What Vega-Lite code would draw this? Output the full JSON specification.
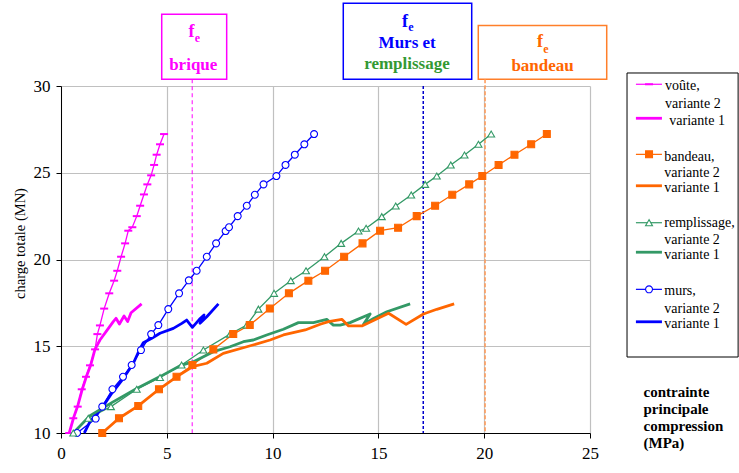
{
  "$schema": "https://vega.github.io/schema/vega-lite/v6.json",
  "width": 529,
  "height": 347,
  "autosize": {"type": "none"},
  "padding": {"left": 61, "top": 86, "right": 149, "bottom": 40},
  "background": "white",
  "config": {
    "view": {"stroke": null},
    "font": "'Liberation Serif', 'Times New Roman', Times, serif",
    "text": {"font": "'Liberation Serif', 'Times New Roman', Times, serif"},
    "axis": {"labelFont": "'Liberation Serif', 'Times New Roman', Times, serif", "titleFont": "'Liberation Serif', 'Times New Roman', Times, serif"}
  },
  "resolve": {"scale": {"color": "independent", "fill": "independent", "stroke": "independent", "shape": "independent"}},
  "datasets": {
    "curves": [
      {"s":"voûte","v":2,"i":0,"x":0.39,"y":10},
      {"s":"voûte","v":2,"i":1,"x":0.58,"y":10.85},
      {"s":"voûte","v":2,"i":2,"x":0.79,"y":11.52},
      {"s":"voûte","v":2,"i":3,"x":0.98,"y":12.52},
      {"s":"voûte","v":2,"i":4,"x":1.18,"y":13.24},
      {"s":"voûte","v":2,"i":5,"x":1.37,"y":13.9},
      {"s":"voûte","v":2,"i":6,"x":1.61,"y":14.82},
      {"s":"voûte","v":2,"i":7,"x":1.72,"y":15.7},
      {"s":"voûte","v":2,"i":8,"x":1.84,"y":16.2},
      {"s":"voûte","v":2,"i":9,"x":2.04,"y":17.17},
      {"s":"voûte","v":2,"i":10,"x":2.28,"y":18.05},
      {"s":"voûte","v":2,"i":11,"x":2.51,"y":18.78},
      {"s":"voûte","v":2,"i":12,"x":2.66,"y":19.35},
      {"s":"voûte","v":2,"i":13,"x":2.84,"y":20.16},
      {"s":"voûte","v":2,"i":14,"x":3.03,"y":20.93},
      {"s":"voûte","v":2,"i":15,"x":3.18,"y":21.66},
      {"s":"voûte","v":2,"i":16,"x":3.37,"y":21.86},
      {"s":"voûte","v":2,"i":17,"x":3.58,"y":22.5},
      {"s":"voûte","v":2,"i":18,"x":3.74,"y":23.1},
      {"s":"voûte","v":2,"i":19,"x":3.92,"y":23.75},
      {"s":"voûte","v":2,"i":20,"x":4.08,"y":24.33},
      {"s":"voûte","v":2,"i":21,"x":4.26,"y":24.85},
      {"s":"voûte","v":2,"i":22,"x":4.4,"y":25.45},
      {"s":"voûte","v":2,"i":23,"x":4.52,"y":26.04},
      {"s":"voûte","v":2,"i":24,"x":4.68,"y":26.64},
      {"s":"voûte","v":2,"i":25,"x":4.87,"y":27.23},

      {"s":"voûte","v":1,"i":0,"x":0.39,"y":10},
      {"s":"voûte","v":1,"i":1,"x":0.6,"y":10.9},
      {"s":"voûte","v":1,"i":2,"x":0.8,"y":11.6},
      {"s":"voûte","v":1,"i":3,"x":1.0,"y":12.5},
      {"s":"voûte","v":1,"i":4,"x":1.2,"y":13.25},
      {"s":"voûte","v":1,"i":5,"x":1.4,"y":13.9},
      {"s":"voûte","v":1,"i":6,"x":1.6,"y":14.8},
      {"s":"voûte","v":1,"i":7,"x":1.84,"y":15.36},
      {"s":"voûte","v":1,"i":8,"x":2.24,"y":16.03},
      {"s":"voûte","v":1,"i":9,"x":2.47,"y":16.42},
      {"s":"voûte","v":1,"i":10,"x":2.6,"y":16.61},
      {"s":"voûte","v":1,"i":11,"x":2.76,"y":16.28},
      {"s":"voûte","v":1,"i":12,"x":2.98,"y":16.74},
      {"s":"voûte","v":1,"i":13,"x":3.15,"y":16.42},
      {"s":"voûte","v":1,"i":14,"x":3.31,"y":16.93},
      {"s":"voûte","v":1,"i":15,"x":3.81,"y":17.44},

      {"s":"murs","v":2,"i":0,"x":0.76,"y":10},
      {"s":"murs","v":2,"i":1,"x":1.64,"y":10.83},
      {"s":"murs","v":2,"i":2,"x":1.95,"y":11.52},
      {"s":"murs","v":2,"i":3,"x":2.43,"y":12.52},
      {"s":"murs","v":2,"i":4,"x":2.93,"y":13.24},
      {"s":"murs","v":2,"i":5,"x":3.34,"y":13.92},
      {"s":"murs","v":2,"i":6,"x":3.78,"y":14.78},
      {"s":"murs","v":2,"i":7,"x":4.26,"y":15.7},
      {"s":"murs","v":2,"i":8,"x":4.6,"y":16.22},
      {"s":"murs","v":2,"i":9,"x":5.07,"y":17.14},
      {"s":"murs","v":2,"i":10,"x":5.58,"y":18.05},
      {"s":"murs","v":2,"i":11,"x":6.04,"y":18.8},
      {"s":"murs","v":2,"i":12,"x":6.41,"y":19.35},
      {"s":"murs","v":2,"i":13,"x":6.89,"y":20.16},
      {"s":"murs","v":2,"i":14,"x":7.33,"y":20.93},
      {"s":"murs","v":2,"i":15,"x":7.78,"y":21.64},
      {"s":"murs","v":2,"i":16,"x":7.94,"y":21.86},
      {"s":"murs","v":2,"i":17,"x":8.35,"y":22.5},
      {"s":"murs","v":2,"i":18,"x":8.78,"y":23.1},
      {"s":"murs","v":2,"i":19,"x":9.16,"y":23.73},
      {"s":"murs","v":2,"i":20,"x":9.57,"y":24.33},
      {"s":"murs","v":2,"i":21,"x":10.18,"y":24.81},
      {"s":"murs","v":2,"i":22,"x":10.61,"y":25.45},
      {"s":"murs","v":2,"i":23,"x":11.05,"y":26.04},
      {"s":"murs","v":2,"i":24,"x":11.5,"y":26.64},
      {"s":"murs","v":2,"i":25,"x":11.96,"y":27.23},

      {"s":"murs","v":1,"i":0,"x":1.1,"y":10},
      {"s":"murs","v":1,"i":1,"x":1.37,"y":10.65},
      {"s":"murs","v":1,"i":2,"x":1.92,"y":11.42},
      {"s":"murs","v":1,"i":3,"x":2.4,"y":12.29},
      {"s":"murs","v":1,"i":4,"x":2.95,"y":13.15},
      {"s":"murs","v":1,"i":5,"x":3.42,"y":14.02},
      {"s":"murs","v":1,"i":6,"x":3.74,"y":14.88},
      {"s":"murs","v":1,"i":7,"x":3.89,"y":15.2},
      {"s":"murs","v":1,"i":8,"x":4.29,"y":15.46},
      {"s":"murs","v":1,"i":9,"x":4.68,"y":15.75},
      {"s":"murs","v":1,"i":10,"x":5.31,"y":16.03},
      {"s":"murs","v":1,"i":11,"x":5.71,"y":16.32},
      {"s":"murs","v":1,"i":12,"x":5.94,"y":16.51},
      {"s":"murs","v":1,"i":13,"x":6.21,"y":16.09},
      {"s":"murs","v":1,"i":14,"x":6.54,"y":16.55},
      {"s":"murs","v":1,"i":15,"x":6.76,"y":16.8},
      {"s":"murs","v":1,"i":16,"x":6.57,"y":16.32},
      {"s":"murs","v":1,"i":17,"x":6.89,"y":16.7},
      {"s":"murs","v":1,"i":18,"x":7.44,"y":17.44},

      {"s":"remplissage","v":2,"i":0,"x":0.58,"y":10},
      {"s":"remplissage","v":2,"i":1,"x":1.29,"y":10.85},
      {"s":"remplissage","v":2,"i":2,"x":2.36,"y":11.52},
      {"s":"remplissage","v":2,"i":3,"x":3.58,"y":12.52},
      {"s":"remplissage","v":2,"i":4,"x":4.68,"y":13.2},
      {"s":"remplissage","v":2,"i":5,"x":5.7,"y":13.92},
      {"s":"remplissage","v":2,"i":6,"x":6.73,"y":14.78},
      {"s":"remplissage","v":2,"i":7,"x":7.99,"y":15.7},
      {"s":"remplissage","v":2,"i":8,"x":8.78,"y":16.22},
      {"s":"remplissage","v":2,"i":9,"x":9.33,"y":17.14},
      {"s":"remplissage","v":2,"i":10,"x":10.07,"y":18.05},
      {"s":"remplissage","v":2,"i":11,"x":10.86,"y":18.78},
      {"s":"remplissage","v":2,"i":12,"x":11.58,"y":19.35},
      {"s":"remplissage","v":2,"i":13,"x":12.45,"y":20.16},
      {"s":"remplissage","v":2,"i":14,"x":13.24,"y":20.93},
      {"s":"remplissage","v":2,"i":15,"x":14.06,"y":21.64},
      {"s":"remplissage","v":2,"i":16,"x":14.42,"y":21.8},
      {"s":"remplissage","v":2,"i":17,"x":15.16,"y":22.47},
      {"s":"remplissage","v":2,"i":18,"x":15.82,"y":23.08},
      {"s":"remplissage","v":2,"i":19,"x":16.55,"y":23.72},
      {"s":"remplissage","v":2,"i":20,"x":17.21,"y":24.33},
      {"s":"remplissage","v":2,"i":21,"x":17.76,"y":24.81},
      {"s":"remplissage","v":2,"i":22,"x":18.42,"y":25.45},
      {"s":"remplissage","v":2,"i":23,"x":19.07,"y":26.02},
      {"s":"remplissage","v":2,"i":24,"x":19.73,"y":26.64},
      {"s":"remplissage","v":2,"i":25,"x":20.33,"y":27.23},

      {"s":"remplissage","v":1,"i":0,"x":0.58,"y":10},
      {"s":"remplissage","v":1,"i":1,"x":1.37,"y":11.0},
      {"s":"remplissage","v":1,"i":2,"x":2.4,"y":11.75},
      {"s":"remplissage","v":1,"i":3,"x":3.58,"y":12.57},
      {"s":"remplissage","v":1,"i":4,"x":4.68,"y":13.25},
      {"s":"remplissage","v":1,"i":5,"x":5.63,"y":13.88},
      {"s":"remplissage","v":1,"i":6,"x":6.26,"y":14.11},
      {"s":"remplissage","v":1,"i":7,"x":7.2,"y":14.69},
      {"s":"remplissage","v":1,"i":8,"x":7.99,"y":14.97},
      {"s":"remplissage","v":1,"i":9,"x":8.62,"y":15.26},
      {"s":"remplissage","v":1,"i":10,"x":9.09,"y":15.36},
      {"s":"remplissage","v":1,"i":11,"x":9.72,"y":15.65},
      {"s":"remplissage","v":1,"i":12,"x":10.51,"y":15.98},
      {"s":"remplissage","v":1,"i":13,"x":11.22,"y":16.36},
      {"s":"remplissage","v":1,"i":14,"x":11.93,"y":16.36},
      {"s":"remplissage","v":1,"i":15,"x":12.56,"y":16.55},
      {"s":"remplissage","v":1,"i":16,"x":12.87,"y":16.22},
      {"s":"remplissage","v":1,"i":17,"x":13.19,"y":16.22},
      {"s":"remplissage","v":1,"i":18,"x":13.66,"y":16.36},
      {"s":"remplissage","v":1,"i":19,"x":14.61,"y":16.86},
      {"s":"remplissage","v":1,"i":20,"x":14.29,"y":16.26},
      {"s":"remplissage","v":1,"i":21,"x":14.77,"y":16.6},
      {"s":"remplissage","v":1,"i":22,"x":15.4,"y":16.99},
      {"s":"remplissage","v":1,"i":23,"x":16.5,"y":17.44},

      {"s":"bandeau","v":2,"i":0,"x":1.95,"y":10},
      {"s":"bandeau","v":2,"i":1,"x":2.74,"y":10.85},
      {"s":"bandeau","v":2,"i":2,"x":3.65,"y":11.56},
      {"s":"bandeau","v":2,"i":3,"x":4.63,"y":12.52},
      {"s":"bandeau","v":2,"i":4,"x":5.46,"y":13.24},
      {"s":"bandeau","v":2,"i":5,"x":6.21,"y":13.92},
      {"s":"bandeau","v":2,"i":6,"x":7.2,"y":14.82},
      {"s":"bandeau","v":2,"i":7,"x":8.14,"y":15.7},
      {"s":"bandeau","v":2,"i":8,"x":8.92,"y":16.22},
      {"s":"bandeau","v":2,"i":9,"x":9.87,"y":17.17},
      {"s":"bandeau","v":2,"i":10,"x":10.77,"y":18.05},
      {"s":"bandeau","v":2,"i":11,"x":11.69,"y":18.78},
      {"s":"bandeau","v":2,"i":12,"x":12.48,"y":19.35},
      {"s":"bandeau","v":2,"i":13,"x":13.38,"y":20.16},
      {"s":"bandeau","v":2,"i":14,"x":14.25,"y":20.93},
      {"s":"bandeau","v":2,"i":15,"x":15.08,"y":21.66},
      {"s":"bandeau","v":2,"i":16,"x":15.93,"y":21.83},
      {"s":"bandeau","v":2,"i":17,"x":16.81,"y":22.5},
      {"s":"bandeau","v":2,"i":18,"x":17.68,"y":23.1},
      {"s":"bandeau","v":2,"i":19,"x":18.49,"y":23.73},
      {"s":"bandeau","v":2,"i":20,"x":19.29,"y":24.33},
      {"s":"bandeau","v":2,"i":21,"x":19.91,"y":24.81},
      {"s":"bandeau","v":2,"i":22,"x":20.68,"y":25.45},
      {"s":"bandeau","v":2,"i":23,"x":21.43,"y":26.04},
      {"s":"bandeau","v":2,"i":24,"x":22.22,"y":26.64},
      {"s":"bandeau","v":2,"i":25,"x":22.96,"y":27.23},

      {"s":"bandeau","v":1,"i":0,"x":1.95,"y":10},
      {"s":"bandeau","v":1,"i":1,"x":2.74,"y":10.85},
      {"s":"bandeau","v":1,"i":2,"x":3.65,"y":11.56},
      {"s":"bandeau","v":1,"i":3,"x":4.63,"y":12.52},
      {"s":"bandeau","v":1,"i":4,"x":5.46,"y":13.24},
      {"s":"bandeau","v":1,"i":5,"x":6.21,"y":13.82},
      {"s":"bandeau","v":1,"i":6,"x":6.89,"y":14.02},
      {"s":"bandeau","v":1,"i":7,"x":7.67,"y":14.59},
      {"s":"bandeau","v":1,"i":8,"x":8.78,"y":14.97},
      {"s":"bandeau","v":1,"i":9,"x":9.88,"y":15.36},
      {"s":"bandeau","v":1,"i":10,"x":10.51,"y":15.65},
      {"s":"bandeau","v":1,"i":11,"x":11.54,"y":15.94},
      {"s":"bandeau","v":1,"i":12,"x":12.25,"y":16.27},
      {"s":"bandeau","v":1,"i":13,"x":12.64,"y":16.42},
      {"s":"bandeau","v":1,"i":14,"x":13.27,"y":16.55},
      {"s":"bandeau","v":1,"i":15,"x":13.59,"y":16.17},
      {"s":"bandeau","v":1,"i":16,"x":14.22,"y":16.17},
      {"s":"bandeau","v":1,"i":17,"x":15.48,"y":16.9},
      {"s":"bandeau","v":1,"i":18,"x":16.31,"y":16.26},
      {"s":"bandeau","v":1,"i":19,"x":17.13,"y":16.86},
      {"s":"bandeau","v":1,"i":20,"x":17.76,"y":17.13},
      {"s":"bandeau","v":1,"i":21,"x":18.58,"y":17.44}
    ],
    "boxes": [
      {"c":"p","x":4.76,"x2":7.83,"y":30.39,"y2":34.13},
      {"c":"b","x":13.34,"x2":19.41,"y":30.39,"y2":34.77},
      {"c":"o","x":19.72,"x2":25.79,"y":30.39,"y2":33.48}
    ],
    "fLabels": [
      {"t":"f","c":"p","x":6.17,"y":32.82},
      {"t":"f","c":"b","x":16.26,"y":33.42},
      {"t":"f","c":"o","x":22.64,"y":32.27}
    ],
    "eLabels": [
      {"t":"e","c":"p","x":6.45,"y":32.55},
      {"t":"e","c":"b","x":16.54,"y":33.19},
      {"t":"e","c":"o","x":22.92,"y":31.88}
    ],
    "words": [
      {"t":"brique","c":"p","x":6.25,"y":30.95},
      {"t":"Murs et","c":"b","x":16.36,"y":32.19},
      {"t":"remplissage","c":"g","x":16.35,"y":30.98},
      {"t":"bandeau","c":"o","x":22.76,"y":30.89}
    ],
    "legendBox": [{"x":26.75,"x2":32.0,"y":30.75,"y2":14.38}],
    "legendLines": [
      {"s":"voûte","v":2,"x":27.17,"x2":28.4,"y":30.1},
      {"s":"voûte","v":1,"x":27.17,"x2":28.4,"y":28.14},
      {"s":"bandeau","v":2,"x":27.17,"x2":28.4,"y":26.06},
      {"s":"bandeau","v":1,"x":27.17,"x2":28.4,"y":24.25},
      {"s":"remplissage","v":2,"x":27.17,"x2":28.4,"y":22.12},
      {"s":"remplissage","v":1,"x":27.17,"x2":28.4,"y":20.42},
      {"s":"murs","v":2,"x":27.17,"x2":28.4,"y":18.28},
      {"s":"murs","v":1,"x":27.17,"x2":28.4,"y":16.41}
    ],
    "legendMarks": [
      {"s":"voûte","x":27.79,"y":30.1},
      {"s":"bandeau","x":27.79,"y":26.06},
      {"s":"remplissage","x":27.79,"y":22.12},
      {"s":"murs","x":27.79,"y":18.28}
    ],
    "legendText": [
      {"t":"voûte,","x":28.55,"y":30.0},
      {"t":"variante 2","x":28.55,"y":28.95},
      {"t":"variante 1","x":28.75,"y":27.98},
      {"t":"bandeau,","x":28.51,"y":25.93},
      {"t":"variante 2","x":28.51,"y":24.97},
      {"t":"variante 1","x":28.51,"y":24.1},
      {"t":"remplissage,","x":28.51,"y":22.09},
      {"t":"variante 2","x":28.51,"y":21.12},
      {"t":"variante 1","x":28.51,"y":20.26},
      {"t":"murs,","x":28.51,"y":18.2},
      {"t":"variante 2","x":28.51,"y":17.14},
      {"t":"variante 1","x":28.51,"y":16.28}
    ]
  },
  "encoding": {
    "x": {
      "field": "x", "type": "quantitative",
      "scale": {"domain": [0, 25], "nice": false, "zero": false},
      "axis": {
        "values": [0, 5, 10, 15, 20, 25],
        "grid": true, "gridColor": "#c0c0c0", "gridWidth": 1.2,
        "domainColor": "black", "domainWidth": 1,
        "tickColor": "black", "tickSize": 5, "tickWidth": 1,
        "labelFontSize": 17, "labelColor": "black", "labelPadding": 7,
        "labelFlush": false, "labelOverlap": false, "labelBound": false,
        "title": ["contrainte", "principale", "compression", "(MPa)"],
        "titleFontSize": 15, "titleFontWeight": "bold", "titleColor": "black",
        "titleAlign": "left", "titleAnchor": "start", "titleX": 582, "titleY": -37,
        "titleBaseline": "alphabetic", "titleLineHeight": 17
      }
    },
    "y": {
      "field": "y", "type": "quantitative",
      "scale": {"domain": [10, 30], "nice": false, "zero": false},
      "axis": {
        "values": [10, 15, 20, 25, 30],
        "grid": true, "gridColor": "#c0c0c0", "gridWidth": 1.2,
        "domainColor": "black", "domainWidth": 1,
        "tickColor": "black", "tickSize": 5, "tickWidth": 1,
        "labelFontSize": 17, "labelColor": "black", "labelPadding": 6,
        "labelOverlap": false, "labelBound": false,
        "title": "charge totale (MN)",
        "titleFontSize": 14.5, "titleFontWeight": "normal", "titleColor": "black",
        "titleAngle": 270, "titleAlign": "center", "titleBaseline": "middle",
        "titleX": -41, "titleY": 157
      }
    }
  },
  "layer": [
    {
      "data": {"name": "boxes"},
      "mark": {"type": "rect", "fill": "white", "fillOpacity": 0, "strokeWidth": 1.5},
      "encoding": {
        "x2": {"field": "x2"},
        "y2": {"field": "y2"},
        "stroke": {"field": "c", "type": "nominal", "scale": {"domain": ["p", "b", "o"], "range": ["#ff00ff", "#0000ff", "#ff7f2a"]}, "legend": null}
      }
    },
    {
      "data": {"values": [{"x": 6.2, "y": 30.39, "y2": 10}]},
      "mark": {"type": "rule", "color": "#ff00ff", "strokeWidth": 1, "strokeDash": [4, 3]},
      "encoding": {"y2": {"field": "y2"}}
    },
    {
      "data": {"values": [{"x": 17.12, "y": 30.0, "y2": 10}]},
      "mark": {"type": "rule", "color": "#0000cc", "strokeWidth": 1.5, "strokeDash": [3, 2]},
      "encoding": {"y2": {"field": "y2"}}
    },
    {
      "data": {"values": [{"x": 20.04, "y": 30.39, "y2": 10}]},
      "mark": {"type": "rule", "color": "#ff9955", "strokeWidth": 1.5, "strokeDash": [4, 2]},
      "encoding": {"y2": {"field": "y2"}}
    },
    {
      "data": {"name": "curves"},
      "transform": [{"filter": "datum.v == 2"}],
      "mark": {"type": "line", "strokeWidth": 1.3},
      "encoding": {
        "color": {"field": "s", "type": "nominal", "scale": {"domain": ["voûte", "bandeau", "remplissage", "murs"], "range": ["#ff00ff", "#ff6600", "#339966", "#0000ff"]}, "legend": null},
        "order": {"field": "i", "type": "quantitative"}
      }
    },
    {
      "data": {"name": "curves"},
      "transform": [{"filter": "datum.v == 1"}],
      "mark": {"type": "line", "strokeWidth": 2.8, "strokeJoin": "round"},
      "encoding": {
        "color": {"field": "s", "type": "nominal", "scale": {"domain": ["voûte", "bandeau", "remplissage", "murs"], "range": ["#ff00ff", "#ff6600", "#339966", "#0000ff"]}, "legend": null},
        "order": {"field": "i", "type": "quantitative"}
      }
    },
    {
      "data": {"name": "curves"},
      "transform": [{"filter": "datum.v == 2 && datum.s == 'voûte'"}],
      "mark": {"type": "point", "shape": "stroke", "size": 64, "strokeWidth": 2, "color": "#ff00ff", "opacity": 1}
    },
    {
      "data": {"name": "curves"},
      "transform": [{"filter": "datum.v == 2 && datum.s != 'voûte'"}],
      "mark": {"type": "point", "size": 48, "strokeWidth": 1.1, "opacity": 1, "filled": true},
      "encoding": {
        "shape": {"field": "s", "type": "nominal", "scale": {"domain": ["bandeau", "remplissage", "murs"], "range": ["square", "triangle-up", "circle"]}, "legend": null},
        "stroke": {"field": "s", "type": "nominal", "scale": {"domain": ["bandeau", "remplissage", "murs"], "range": ["#ff6600", "#339966", "#0000ff"]}, "legend": null},
        "fill": {"field": "s", "type": "nominal", "scale": {"domain": ["bandeau", "remplissage", "murs"], "range": ["#ff6600", "white", "white"]}, "legend": null}
      }
    },
    {
      "data": {"name": "fLabels"},
      "mark": {"type": "text", "fontSize": 18, "fontWeight": "bold", "align": "center", "baseline": "alphabetic"},
      "encoding": {
        "text": {"field": "t"},
        "color": {"field": "c", "type": "nominal", "scale": {"domain": ["p", "b", "g", "o"], "range": ["#ff00ff", "#0000ff", "#339933", "#ff6600"]}, "legend": null}
      }
    },
    {
      "data": {"name": "eLabels"},
      "mark": {"type": "text", "fontSize": 12, "fontWeight": "bold", "align": "center", "baseline": "alphabetic"},
      "encoding": {
        "text": {"field": "t"},
        "color": {"field": "c", "type": "nominal", "scale": {"domain": ["p", "b", "g", "o"], "range": ["#ff00ff", "#0000ff", "#339933", "#ff6600"]}, "legend": null}
      }
    },
    {
      "data": {"name": "words"},
      "mark": {"type": "text", "fontSize": 17, "fontWeight": "bold", "align": "center", "baseline": "alphabetic"},
      "encoding": {
        "text": {"field": "t"},
        "color": {"field": "c", "type": "nominal", "scale": {"domain": ["p", "b", "g", "o"], "range": ["#ff00ff", "#0000ff", "#339933", "#ff6600"]}, "legend": null}
      }
    },
    {
      "data": {"name": "legendBox"},
      "mark": {"type": "rect", "fill": "white", "stroke": "black", "strokeWidth": 1},
      "encoding": {"x2": {"field": "x2"}, "y2": {"field": "y2"}}
    },
    {
      "data": {"name": "legendLines"},
      "transform": [{"filter": "datum.v == 2"}],
      "mark": {"type": "rule", "strokeWidth": 1.2},
      "encoding": {
        "x2": {"field": "x2"},
        "color": {"field": "s", "type": "nominal", "scale": {"domain": ["voûte", "bandeau", "remplissage", "murs"], "range": ["#ff00ff", "#ff6600", "#339966", "#0000ff"]}, "legend": null}
      }
    },
    {
      "data": {"name": "legendLines"},
      "transform": [{"filter": "datum.v == 1"}],
      "mark": {"type": "rule", "strokeWidth": 2.8},
      "encoding": {
        "x2": {"field": "x2"},
        "color": {"field": "s", "type": "nominal", "scale": {"domain": ["voûte", "bandeau", "remplissage", "murs"], "range": ["#ff00ff", "#ff6600", "#339966", "#0000ff"]}, "legend": null}
      }
    },
    {
      "data": {"name": "legendMarks"},
      "transform": [{"filter": "datum.s == 'voûte'"}],
      "mark": {"type": "point", "shape": "stroke", "size": 64, "strokeWidth": 2, "color": "#ff00ff", "opacity": 1}
    },
    {
      "data": {"name": "legendMarks"},
      "transform": [{"filter": "datum.s != 'voûte'"}],
      "mark": {"type": "point", "size": 48, "strokeWidth": 1.1, "opacity": 1, "filled": true},
      "encoding": {
        "shape": {"field": "s", "type": "nominal", "scale": {"domain": ["bandeau", "remplissage", "murs"], "range": ["square", "triangle-up", "circle"]}, "legend": null},
        "stroke": {"field": "s", "type": "nominal", "scale": {"domain": ["bandeau", "remplissage", "murs"], "range": ["#ff6600", "#339966", "#0000ff"]}, "legend": null},
        "fill": {"field": "s", "type": "nominal", "scale": {"domain": ["bandeau", "remplissage", "murs"], "range": ["#ff6600", "white", "white"]}, "legend": null}
      }
    },
    {
      "data": {"name": "legendText"},
      "mark": {"type": "text", "fontSize": 14, "align": "left", "baseline": "middle", "color": "black"},
      "encoding": {"text": {"field": "t"}}
    }
  ]
}
